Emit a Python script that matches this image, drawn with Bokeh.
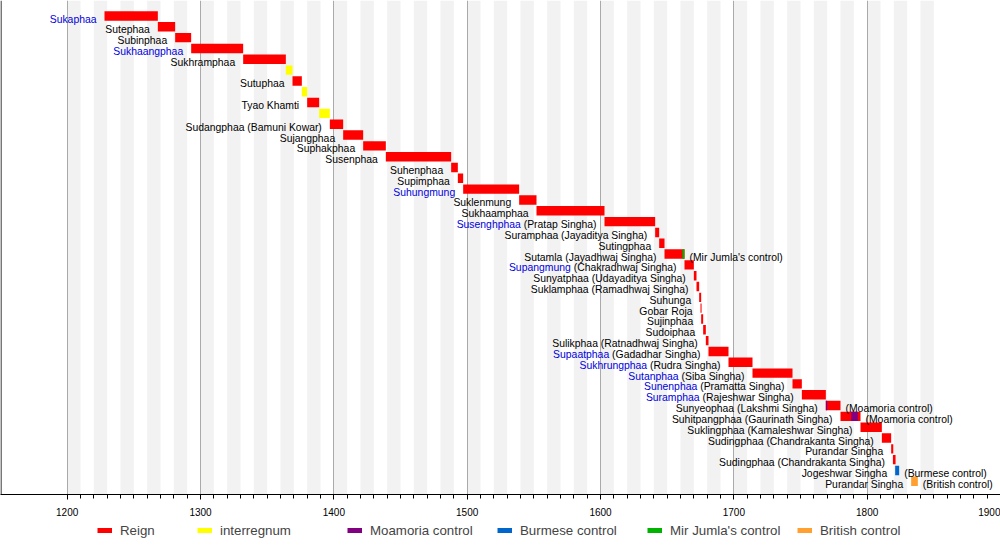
from bokeh.plotting import figure
from bokeh.layouts import column
from bokeh.models import (ColumnDataSource, Range1d, FixedTicker, Grid, Span,
                          Legend, LegendItem, BoxAnnotation)
from bokeh.core.properties import value
from bokeh.embed import file_html
from bokeh.resources import INLINE

# ---------------- data ----------------
names = ["Sukaphaa", "Sutephaa", "Subinphaa", "Sukhaangphaa", "Sukhramphaa", "",
         "Sutuphaa", "", "Tyao Khamti", "", "Sudangphaa", "Sujangphaa", "Suphakphaa",
         "Susenphaa", "Suhenphaa", "Supimphaa", "Suhungmung", "Suklenmung",
         "Sukhaamphaa", "Susenghphaa", "Suramphaa", "Sutingphaa", "Sutamla",
         "Supangmung", "Sunyatphaa", "Suklamphaa", "Suhunga", "Gobar Roja",
         "Sujinphaa", "Sudoiphaa", "Sulikphaa", "Supaatphaa", "Sukhrungphaa",
         "Sutanphaa", "Sunenphaa", "Suramphaa", "Sunyeophaa", "Suhitpangphaa",
         "Suklingphaa", "Sudingphaa", "Purandar Singha", "Sudingphaa",
         "Jogeshwar Singha", "Purandar Singha"]
aliases = ["", "", "", "", "", "", "", "", "", "", "Bamuni Kowar", "", "", "", "", "",
           "", "", "", "Pratap Singha", "Jayaditya Singha", "", "Jayadhwaj Singha",
           "Chakradhwaj Singha", "Udayaditya Singha", "Ramadhwaj Singha", "", "", "",
           "", "Ratnadhwaj Singha", "Gadadhar Singha", "Rudra Singha", "Siba Singha",
           "Pramatta Singha", "Rajeshwar Singha", "Lakshmi Singha", "Gaurinath Singha",
           "Kamaleshwar Singha", "Chandrakanta Singha", "", "Chandrakanta Singha",
           "", ""]
linked = [1, 0, 0, 1, 0, 0, 0, 0, 0, 0, 0, 0, 0, 0, 0, 0, 1, 0, 0, 1, 0, 0,
          0, 1, 0, 0, 0, 0, 0, 0, 0, 1, 1, 1, 1, 1, 0, 0, 0, 0, 0, 0, 0, 0]
starts = [1228, 1268, 1281, 1293, 1332, 1364, 1369, 1376, 1380, 1389, 1397, 1407,
          1422, 1439, 1488, 1493, 1497, 1539, 1552, 1603, 1641, 1644, 1648, 1663,
          1670, 1672, 1674, 1675, 1675.5, 1677, 1679, 1681, 1696, 1714, 1744, 1751,
          1769, 1780, 1795, 1811, 1818, 1819.3, 1821, 1833]
ends = [1268, 1281, 1293, 1332, 1364, 1369, 1376, 1380, 1389, 1397, 1407, 1422,
        1439, 1488, 1493, 1497, 1539, 1552, 1603, 1641, 1644, 1648, 1663, 1670,
        1672, 1674, 1675.5, 1675.8, 1677, 1679, 1681, 1696, 1714, 1744, 1751, 1769,
        1780, 1795, 1811, 1818, 1819.6, 1821.3, 1824, 1838]
kinds = ["Reign"] * 44
kinds[5] = kinds[7] = kinds[9] = "interregnum"
kinds[42] = "Burmese control"
kinds[43] = "British control"

overlay_rows = [22, 36, 37]
overlay_kinds = ["Mir Jumla's control", "Moamoria control", "Moamoria control"]
overlay_starts = [1661.5, 1769, 1788]
overlay_ends = [1663, 1770, 1793]

note_rows = [22, 36, 37, 42, 43]
note_texts = ["(Mir Jumla's control)", "(Moamoria control)", "(Moamoria control)",
              "(Burmese control)", "(British control)"]

categories = ["Reign", "interregnum", "Moamoria control", "Burmese control",
              "Mir Jumla's control", "British control"]
cat_colors = ["#ff0000", "#ffff00", "#800080", "#0066cc", "#00b300", "#ffa030"]

major_ticks = list(range(1200, 1901, 100))
minor_ticks = list(range(1200, 1901, 10))
band_starts = list(range(1200, 1850, 20))   # shaded decades 1200-1210, 1220-1230, ...

# ---------------- helpers ----------------
_W = {' ': 278, "'": 191, '(': 333, ')': 333, 'A': 667, 'B': 667, 'C': 722,
      'D': 722, 'E': 667, 'F': 611, 'G': 778, 'H': 722, 'I': 278, 'J': 500,
      'K': 667, 'L': 556, 'M': 833, 'N': 722, 'O': 778, 'P': 667, 'Q': 778,
      'R': 722, 'S': 667, 'T': 611, 'U': 722, 'V': 667, 'W': 944, 'X': 667,
      'Y': 667, 'Z': 611, 'a': 556, 'b': 556, 'c': 500, 'd': 556, 'e': 556,
      'f': 278, 'g': 556, 'h': 556, 'i': 222, 'j': 222, 'k': 500, 'l': 222,
      'm': 833, 'n': 556, 'o': 556, 'p': 556, 'q': 556, 'r': 333, 's': 500,
      't': 278, 'u': 556, 'v': 500, 'w': 722, 'x': 500, 'y': 500, 'z': 500}


def text_width(s, size):
    return sum(_W.get(c, 556) for c in s) * size / 1000.0


LABEL_SIZE = 10.4
GAP = 8
HALF = 0.435
FONT = "Liberation Sans"

# ---------------- main figure ----------------
p = figure(width=1000, height=522, x_range=Range1d(1150, 1900),
           y_range=Range1d(44.22, -1.4325), output_backend="svg",
           toolbar_location=None, y_axis_location=None,
           min_border_left=0, min_border_right=0, min_border_top=0,
           min_border_bottom=28, outline_line_color=None)
p.background_fill_color = "white"
p.border_fill_color = "white"
p.xgrid.visible = False
p.ygrid.visible = False

for b in band_starts:
    p.add_layout(BoxAnnotation(left=b, right=b + 10, fill_color="#f2f2f2",
                               fill_alpha=1.0, line_color=None, level="underlay"))
p.add_layout(Grid(dimension=0, ticker=FixedTicker(ticks=major_ticks[:-1]),
                  grid_line_color="#aaaaaa", grid_line_width=1))
p.add_layout(Span(location=p.x_range.start + 0.4, dimension="height",
                  line_color="black", line_width=1))

ax = p.xaxis[0]
ax.ticker = FixedTicker(ticks=major_ticks, minor_ticks=minor_ticks)
ax.axis_line_color = "black"
ax.major_tick_in = 0
ax.major_tick_out = 5
ax.minor_tick_in = 0
ax.minor_tick_out = 4
ax.major_tick_line_color = "black"
ax.minor_tick_line_color = "black"
ax.major_label_standoff = 8
ax.major_label_text_font = FONT
ax.major_label_text_font_size = "10px"
ax.major_label_text_color = "black"

# bars
bars = {c: dict(left=[], right=[], top=[], bottom=[]) for c in categories}
for i in range(len(names)):
    d = bars[kinds[i]]
    d["left"].append(starts[i]); d["right"].append(ends[i])
    d["top"].append(i - HALF); d["bottom"].append(i + HALF)
for r, k, s, e in zip(overlay_rows, overlay_kinds, overlay_starts, overlay_ends):
    d = bars[k]
    d["left"].append(s); d["right"].append(e)
    d["top"].append(r - HALF); d["bottom"].append(r + HALF)

for c, col in zip(categories, cat_colors):
    p.quad(source=ColumnDataSource(bars[c]), left="left", right="right",
           top="top", bottom="bottom", fill_color=col, line_color=None)

# labels
SPACE = text_width(" ", LABEL_SIZE)
black = dict(x=[], y=[], text=[], xo=[])
blue = dict(x=[], y=[], text=[], xo=[])
for i, n in enumerate(names):
    if not n:
        continue
    alias = "(" + aliases[i] + ")" if aliases[i] else ""
    if linked[i]:
        off = -GAP
        if alias:
            black["x"].append(starts[i]); black["y"].append(i)
            black["text"].append(alias); black["xo"].append(-GAP)
            off = -GAP - text_width(alias, LABEL_SIZE) - SPACE
        blue["x"].append(starts[i]); blue["y"].append(i); blue["text"].append(n)
        blue["xo"].append(off)
    else:
        black["x"].append(starts[i]); black["y"].append(i)
        black["text"].append(n + (" " + alias if alias else ""))
        black["xo"].append(-GAP)

for d, col in ((black, "black"), (blue, "#0000dd")):
    p.text(source=ColumnDataSource(d), x="x", y="y", text="text", x_offset="xo",
           y_offset=3, text_align="right", text_baseline="alphabetic",
           text_font=value(FONT), text_font_size=f"{LABEL_SIZE}px", text_color=col)

notes = dict(x=[ends[r] for r in note_rows], y=note_rows, text=note_texts)
p.text(source=ColumnDataSource(notes), x="x", y="y", text="text", x_offset=5,
       y_offset=3, text_align="left", text_baseline="alphabetic",
       text_font=value(FONT), text_font_size=f"{LABEL_SIZE}px", text_color="black")

# ---------------- legend strip ----------------
q = figure(width=1000, height=23, x_range=Range1d(0, 1), y_range=Range1d(0, 1),
           output_backend="svg", toolbar_location=None,
           x_axis_location=None, y_axis_location=None,
           min_border_left=0, min_border_right=0, min_border_top=0,
           min_border_bottom=0, outline_line_color=None)
q.grid.visible = False
items = []
for c, col in zip(categories, cat_colors):
    # swatch proxy: carries the category's own bar data, which lies outside
    # this strip's 0..1 ranges, so only its legend swatch is seen
    r = q.line(x=bars[c]["left"], y=bars[c]["top"], line_color=col, line_width=5)
    items.append(LegendItem(label=c, renderers=[r]))

common = dict(orientation="horizontal", padding=0, margin=0, spacing=0,
              glyph_width=15, glyph_height=16, label_standoff=8,
              label_height=16, label_text_font=FONT,
              label_text_font_size="13.3px", border_line_color=None,
              background_fill_alpha=0)
q.add_layout(Legend(items=items[:1], location=(97, 7), label_width=77, **common))
q.add_layout(Legend(items=items[1:], location=(197, 7), label_width=127, **common))

layout = column(p, q, spacing=0)
open("out.html", "w").write(file_html(layout, INLINE))
